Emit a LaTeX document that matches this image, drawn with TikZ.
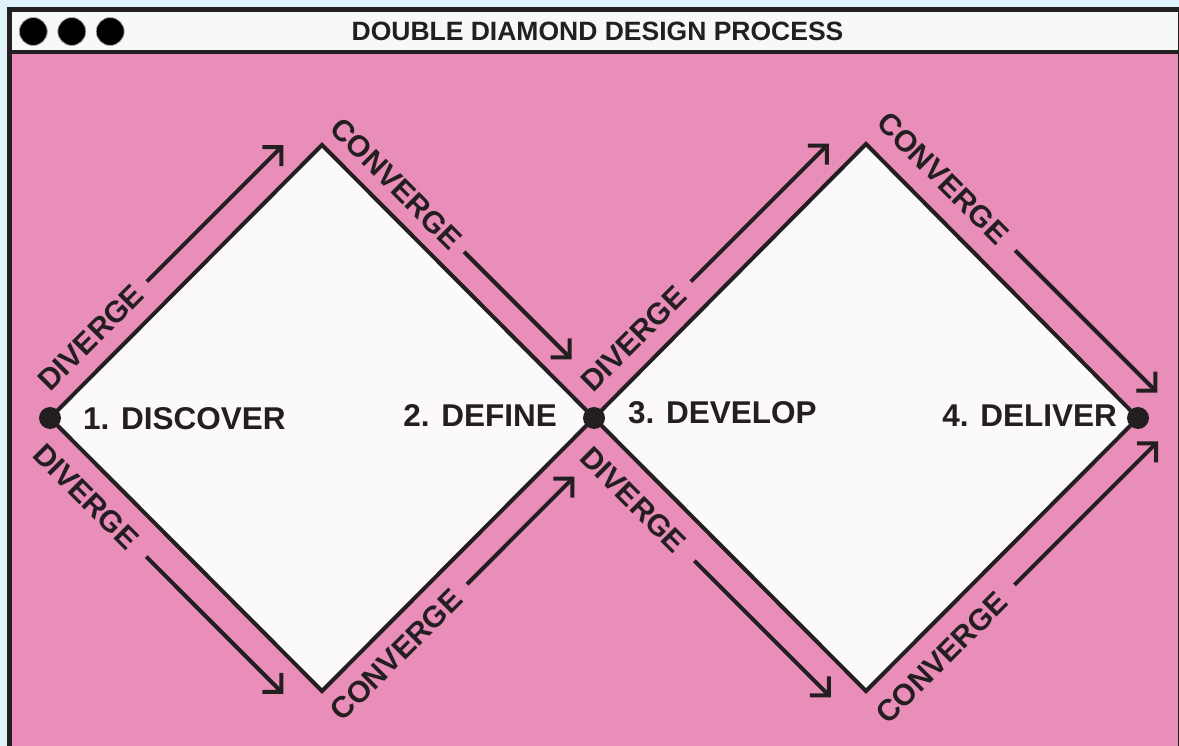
\documentclass[tikz,border=0pt]{standalone}
\usepackage{fontspec}
\setmainfont{Liberation Sans}
\usetikzlibrary{arrows.meta}
\definecolor{bgblue}{HTML}{E0F3FA}
\definecolor{ink}{HTML}{231F20}
\definecolor{barwhite}{HTML}{F7F9F6}
\definecolor{pinkbg}{HTML}{E98DB9}
\definecolor{diafill}{HTML}{FBF9FB}
\begin{document}
\begin{tikzpicture}[x=1pt,y=-1pt,
  diaglabel/.style={font=\bfseries\fontsize{30}{30}\selectfont, text=ink, inner sep=0pt},
  stagelabel/.style={font=\bfseries\fontsize{31.5}{31.5}\selectfont, text=ink, inner sep=0pt},
  flowarrow/.style={draw=ink, line width=4pt, -{Straight Barb[length=13.4pt,width=26.9pt,sharp]}},
  diamondshape/.style={draw=ink, fill=diafill, line width=4pt, line join=miter},
  vertexdot/.style={circle, fill=ink, inner sep=0pt, minimum size=22pt},
  titledot/.style={circle, fill=black, draw=gray!70, line width=0.8pt, inner sep=0pt, minimum size=28pt}]

\fill[bgblue] (0,0) rectangle (1179,746);
\useasboundingbox (0,0) rectangle (1179,746);
\begin{scope}
  \clip (0,0) rectangle (1179,746);
  \fill[pinkbg] (9.2,52) rectangle (1180,770);
  \fill[barwhite] (9.2,9.2) rectangle (1180,52);
  \draw[ink, line width=4pt] (9.2,52) -- (1180,52);
  \draw[ink, line width=5pt] (9.2,770) -- (9.2,9.2) -- (1180,9.2) -- (1180,770);
\end{scope}

% title bar
\node[titledot] (c1) at (33.3,31.5) {};
\node[titledot] (c2) at (71.8,31.5) {};
\node[titledot] (c3) at (110.2,31.5) {};
\node[font=\bfseries\fontsize{26.5}{26.5}\selectfont, text=ink, inner sep=0pt] (title) at (597.5,31) {DOUBLE DIAMOND DESIGN PROCESS};

% diamonds
\coordinate (L1) at (50,418);
\coordinate (T1) at (322,145);
\coordinate (M)  at (594,418);
\coordinate (B1) at (322,691);
\coordinate (T2) at (866,144);
\coordinate (R2) at (1138,418);
\coordinate (B2) at (866,691);
\draw[diamondshape] (L1) -- (T1) -- (M) -- (B1) -- cycle;
\draw[diamondshape] (M) -- (T2) -- (R2) -- (B2) -- cycle;

% arrows diamond 1
\coordinate (a1s) at (146.9,281.5); \coordinate (a1e) at (283.3,145.1);
\coordinate (a2s) at (464.1,251.8); \coordinate (a2e) at (571.6,359.3);
\coordinate (a3s) at (146.2,556.6); \coordinate (a3e) at (283.3,693.8);
\coordinate (a4s) at (467.0,584.2); \coordinate (a4e) at (574.4,476.7);
% arrows diamond 2
\coordinate (a5s) at (690.9,281.5); \coordinate (a5e) at (828.8,143.6);
\coordinate (a6s) at (1015.2,250.4); \coordinate (a6e) at (1157.3,392.5);
\coordinate (a7s) at (694.4,560.8); \coordinate (a7e) at (830.9,697.3);
\coordinate (a8s) at (1014.5,584.9); \coordinate (a8e) at (1158.0,441.4);
\foreach \i in {1,...,8} {\draw[flowarrow] (a\i s) -- (a\i e);}

% diagonal labels
\node[diaglabel, rotate=45]  (d1) at (91.0,337.4) {DIVERGE};
\node[diaglabel, rotate=-45] (d2) at (396.2,183.9) {CONVERGE};
\node[diaglabel, rotate=-45] (d3) at (86.1,496.5) {DIVERGE};
\node[diaglabel, rotate=45]  (d4) at (396.2,654.9) {CONVERGE};
\node[diaglabel, rotate=45]  (d5) at (633.6,338.8) {DIVERGE};
\node[diaglabel, rotate=-45] (d6) at (943.1,178.2) {CONVERGE};
\node[diaglabel, rotate=-45] (d7) at (633.6,500.0) {DIVERGE};
\node[diaglabel, rotate=45]  (d8) at (941.7,657.8) {CONVERGE};

% stage labels
\node[stagelabel, anchor=west] (s1) at (83,419) {1. DISCOVER};
\node[stagelabel, anchor=east] (s2) at (557,416) {2. DEFINE};
\node[stagelabel, anchor=west] (s3) at (628,413) {3. DEVELOP};
\node[stagelabel, anchor=east] (s4) at (1117,416) {4. DELIVER};

% vertex dots
\node[vertexdot] (dotL) at (L1) {};
\node[vertexdot] (dotM) at (M) {};
\node[vertexdot] (dotR) at (R2) {};
\end{tikzpicture}
\end{document}
